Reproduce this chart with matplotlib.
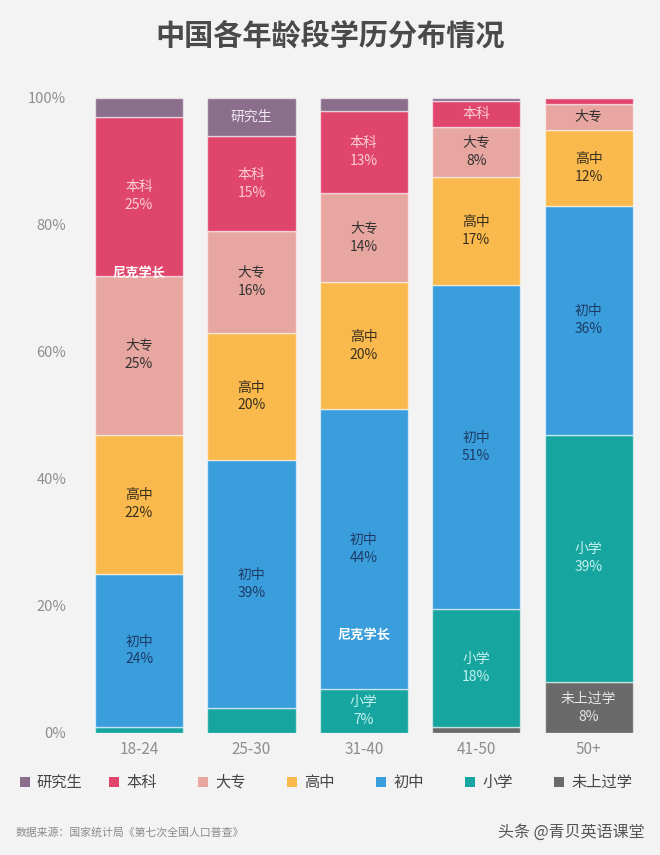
import matplotlib
matplotlib.use("Agg")
import matplotlib.pyplot as plt
from matplotlib.patches import Rectangle
import numpy as np

plt.rcParams['font.family'] = ['Noto Sans CJK SC', 'DejaVu Sans']

# ---- data ----
age_groups = ["18-24", "25-30", "31-40", "41-50", "50+"]
levels = ["研究生", "本科", "大专", "高中", "初中", "小学", "未上过学"]
# values per level, one per age group (percent)
grad      = [3, 6, 2, 0.5, 0]
bachelor  = [25, 15, 13, 4, 1]
college   = [25, 16, 14, 8, 4]
highsch   = [22, 20, 20, 17, 12]
middle    = [24, 39, 44, 51, 36]
primary   = [1, 4, 7, 18.5, 39]
none_edu  = [0, 0, 0, 1, 8]
series = [grad, bachelor, college, highsch, middle, primary, none_edu]
# segments labelled with name only (group index, level)
name_only = [(1, "研究生"), (3, "本科"), (4, "大专")]
min_full_label = 7

colors = ["#8B6E8C", "#E0456C", "#E8A6A0", "#F9B94C", "#3A9EDC", "#17A59F", "#6A6A6A"]
text_colors = ["#F0E8F0", "#F9CDD6", "#333333", "#3A3020", "#1D3C66", "#C4F2EE", "#E6E6E6"]

bg = "#F3F3F3"
W, H = 660, 855
fig = plt.figure(figsize=(W / 100, H / 100), dpi=100, facecolor=bg)
ax = fig.add_axes([0.1255, 0.1427, 0.8515, 0.7427], facecolor=bg)

x = np.arange(len(age_groups))
bottom = np.zeros(len(age_groups))
# stack from the lowest education level (bottom) upward
for li in reversed(range(len(levels))):
    lvl = levels[li]
    vals = np.array(series[li], dtype=float)
    ax.bar(x, vals, bottom=bottom, width=0.785, color=colors[li],
           edgecolor=(1, 1, 1, 0.55), linewidth=1.0, label=lvl)
    for gi, v in enumerate(vals):
        yc = bottom[gi] + v / 2
        if (gi, lvl) in name_only:
            ax.text(x[gi], yc, lvl, ha="center", va="center",
                    fontsize=10, color=text_colors[li])
        elif v >= min_full_label:
            ax.text(x[gi], yc, f"{lvl}\n{int(v)}%", ha="center", va="center",
                    fontsize=10, color=text_colors[li], linespacing=1.35)
    bottom += vals

ax.set_xlim(-0.5, len(age_groups) - 0.5)
ax.set_ylim(0, 100)
ax.set_yticks([0, 20, 40, 60, 80, 100])
ax.set_yticklabels([f"{t}%" for t in [0, 20, 40, 60, 80, 100]])
ax.set_xticks(x)
ax.set_xticklabels(age_groups)
ax.tick_params(axis="both", length=0, colors="#8E8E8E", labelsize=10.5)
ax.tick_params(axis="x", pad=6, labelsize=11)
ax.tick_params(axis="y", pad=12)
for s in ax.spines.values():
    s.set_visible(False)

# watermarks
ax.text(0, 72.5, "尼克学长", ha="center", va="center", fontsize=9.5,
        color="white", fontweight="bold")
ax.text(2, 15.5, "尼克学长", ha="center", va="center", fontsize=9.5,
        color="white", fontweight="bold")

fig.text(0.5, 0.958, "中国各年龄段学历分布情况", ha="center", va="center",
         fontsize=21, fontweight="bold", color="#4A4A4A")

# legend: evenly spaced entries
leg_x0, leg_step, leg_y, sq = 20, 89, 782, 10
for i, (lvl, c) in enumerate(zip(levels, colors)):
    lx = leg_x0 + i * leg_step
    fig.patches.append(Rectangle((lx / W, (H - leg_y - sq / 2) / H), sq / W, sq / H,
                                 transform=fig.transFigure, facecolor=c,
                                 edgecolor="none"))
    fig.text((lx + sq + 7) / W, (H - leg_y) / H, lvl, ha="left", va="center",
             fontsize=11, color="#444444")

fig.text(0.023, 0.026, "数据来源：国家统计局《第七次全国人口普查》", ha="left", va="center",
         fontsize=7.8, color="#8A8A8A")
fig.text(0.977, 0.027, "头条 @青贝英语课堂", ha="right", va="center",
         fontsize=11.5, color="#555555")

fig.savefig("out.png", dpi=100, facecolor=bg)
